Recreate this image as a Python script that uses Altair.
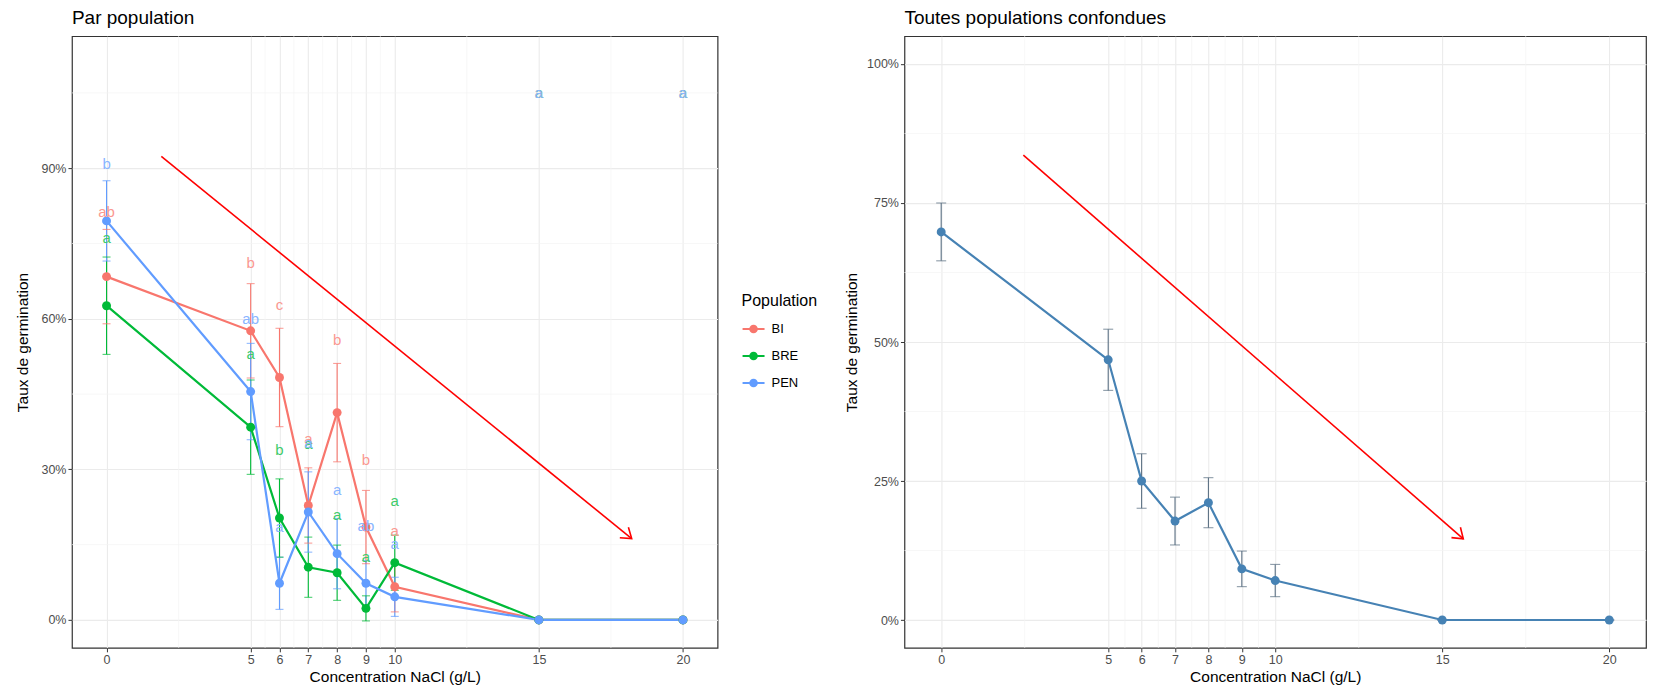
import altair as alt
import pandas as pd

# ---------------- data ----------------
conc = [0, 5, 6, 7, 8, 9, 10, 15, 20]
populations = ["BI", "BRE", "PEN"]

bi_mean = [0.684, 0.576, 0.483, 0.228, 0.413, 0.185, 0.066, 0.0, 0.0]
bi_se = [0.094, 0.094, 0.098, 0.075, 0.098, 0.073, 0.050, 0.0, 0.0]
bi_letters = ["ab", "b", "c", "a", "b", "b", "a", "a", "a"]
bi_label_y = [0.813, 0.712, 0.628, 0.360, 0.558, 0.318, 0.177, 1.05, 1.05]

bre_mean = [0.626, 0.384, 0.203, 0.105, 0.094, 0.023, 0.114, 0.0, 0.0]
bre_se = [0.097, 0.094, 0.078, 0.060, 0.055, 0.025, 0.055, 0.0, 0.0]
bre_letters = ["a", "a", "b", "a", "a", "a", "a", "a", "a"]
bre_label_y = [0.760, 0.530, 0.338, 0.350, 0.210, 0.125, 0.236, 1.05, 1.05]

pen_mean = [0.795, 0.455, 0.073, 0.215, 0.132, 0.073, 0.046, 0.0, 0.0]
pen_se = [0.080, 0.096, 0.052, 0.080, 0.070, 0.045, 0.039, 0.0, 0.0]
pen_letters = ["b", "ab", "a", "a", "a", "ab", "a", "a", "a"]
pen_label_y = [0.908, 0.599, 0.185, 0.352, 0.258, 0.187, 0.152, 1.05, 1.05]

all_mean = [0.698, 0.468, 0.250, 0.178, 0.211, 0.092, 0.071, 0.0, 0.0]
all_se = [0.052, 0.055, 0.049, 0.043, 0.045, 0.032, 0.029, 0.0, 0.0]

minor_x = [2.5, 5.5, 6.5, 7.5, 8.5, 9.5, 12.5, 17.5]
left_y_ticks = [0, 0.3, 0.6, 0.9]
left_y_minor = [0.15, 0.45, 0.75, 1.05]
right_y_ticks = [0, 0.25, 0.5, 0.75, 1.0]
right_y_minor = [0.125, 0.375, 0.625, 0.875]

arrow_left_x = [1.90, 18.22]
arrow_left_y = [0.9235, 0.162]
arrow_right_x = [2.46, 15.63]
arrow_right_y = [0.836, 0.146]

# ---------------- styles ----------------
FONT = "Liberation Sans"
PAL = {"BI": "#F8766D", "BRE": "#00BA38", "PEN": "#619CFF"}
PAL_TXT = {"BI": "#FA9891", "BRE": "#40CB6A", "PEN": "#89B5FF"}
GRID = "#EBEBEB"
MINOR = "#F4F4F4"
STEEL = "#4682B4"
ERR_R = "#5B7083"
FRAME = alt.ViewBackground(stroke="#333333", strokeWidth=1.2, fill="white")

rows = []
for pop, m, s, let, ly in [
    ("BI", bi_mean, bi_se, bi_letters, bi_label_y),
    ("BRE", bre_mean, bre_se, bre_letters, bre_label_y),
    ("PEN", pen_mean, pen_se, pen_letters, pen_label_y),
]:
    for c, mi, si, li, lyi in zip(conc, m, s, let, ly):
        rows.append(dict(conc=c, pop=pop, mean=mi, lower=mi - si, upper=mi + si,
                         letter=li, label_y=lyi, hex=PAL[pop], txt=PAL_TXT[pop]))
df_pop = pd.DataFrame(rows)

df_all = pd.DataFrame({"conc": conc, "mean": all_mean,
                       "lower": [m - s for m, s in zip(all_mean, all_se)],
                       "upper": [m + s for m, s in zip(all_mean, all_se)]})


def x_axis():
    return alt.Axis(title="Concentration NaCl (g/L)", values=conc, format="d", grid=True,
                    gridColor=GRID, gridWidth=1.1, domain=False, tickColor="#333333",
                    tickSize=4, tickWidth=1, labelFontSize=12.5, labelColor="#4D4D4D",
                    labelPadding=2, labelFont=FONT, titleFont=FONT, titleFontSize=15.5,
                    titleFontWeight="normal", titleColor="#000000", titlePadding=3,
                    labelFlush=False, labelOverlap=False)


def y_axis(values, tpad):
    return alt.Axis(title="Taux de germination", values=values, format=".0%", grid=True,
                    gridColor=GRID, gridWidth=1.1, domain=False, tickColor="#333333",
                    tickSize=4, tickWidth=1, labelFontSize=12.5, labelColor="#4D4D4D",
                    labelPadding=2, labelFont=FONT, titleFont=FONT, titleFontSize=15.5,
                    titleFontWeight="normal", titleColor="#000000", titlePadding=tpad,
                    labelFlush=False, labelOverlap=False)


ARROW_HEAD = "M-1,-0.7L0,0L-1,0.7"
LEG_SYM = ("M-1,0L1,0"
           "M0.3,0A0.3,0.3,0,1,1,-0.3,0A0.3,0.3,0,1,1,0.3,0"
           "M0.17,0A0.17,0.17,0,1,1,-0.17,0A0.17,0.17,0,1,1,0.17,0"
           "M0.05,0A0.05,0.05,0,1,1,-0.05,0A0.05,0.05,0,1,1,0.05,0")


def panel(xs, ys, yvals, yminor, tpad):
    xa = x_axis()
    ya = y_axis(yvals, tpad)

    def X(f):
        return alt.X(f, type="quantitative", scale=xs, axis=xa)

    def Y(f):
        return alt.Y(f, type="quantitative", scale=ys, axis=ya)

    gx = alt.Chart(pd.DataFrame({"v": minor_x})).mark_rule(
        color=MINOR, strokeWidth=0.7).encode(x=X("v"))
    gy = alt.Chart(pd.DataFrame({"v": yminor})).mark_rule(
        color=MINOR, strokeWidth=0.7).encode(y=Y("v"))
    return X, Y, gx, gy


# ---------------- left panel ----------------
xL = alt.Scale(domain=[-1.2, 21.2], nice=False, zero=False)
yL = alt.Scale(domain=[-0.0556, 1.163], nice=False, zero=False)
XL, YL, gxL, gyL = panel(xL, yL, left_y_ticks, left_y_minor, 10)

baseL = alt.Chart(df_pop)
errL = baseL.mark_rule(strokeWidth=1.1).encode(
    x=XL("conc"), y=YL("lower"), y2="upper", stroke=alt.Stroke("hex:N", scale=None))
capUL = baseL.mark_tick(orient="horizontal", size=8, thickness=1.1).encode(
    x=XL("conc"), y=YL("upper"), fill=alt.Fill("hex:N", scale=None))
capLL = baseL.mark_tick(orient="horizontal", size=8, thickness=1.1).encode(
    x=XL("conc"), y=YL("lower"), fill=alt.Fill("hex:N", scale=None))
lineL = baseL.mark_line(strokeWidth=2.2).encode(
    x=XL("conc"), y=YL("mean"),
    color=alt.Color("pop:N", scale=alt.Scale(domain=populations,
                                             range=[PAL[p] for p in populations]),
                    legend=alt.Legend(title="Population", orient="none", legendX=670,
                                      legendY=257, symbolType=LEG_SYM, symbolSize=484,
                                      symbolStrokeWidth=2, symbolOpacity=1,
                                      titleFontSize=16, labelFontSize=13, titleFont=FONT,
                                      labelFont=FONT, titleFontWeight="normal",
                                      titleColor="#000000", labelColor="#000000",
                                      rowPadding=7, titlePadding=8, labelOffset=6)))
ptsL = baseL.mark_circle(size=80, opacity=1).encode(
    x=XL("conc"), y=YL("mean"), fill=alt.Fill("hex:N", scale=None))
txtL = baseL.mark_text(fontSize=15, font=FONT, opacity=1).encode(
    x=XL("conc"), y=YL("label_y"), text="letter:N", fill=alt.Fill("txt:N", scale=None))
arrL_df = pd.DataFrame({"x": arrow_left_x, "y": arrow_left_y})
arrL = alt.Chart(arrL_df).mark_line(color="#FF0000", strokeWidth=1.6).encode(
    x=XL("x"), y=YL("y"))
headL = alt.Chart(arrL_df.iloc[[1]]).mark_point(
    shape=ARROW_HEAD, size=380, angle=39, filled=False, color="#FF0000",
    strokeWidth=1.6, opacity=1).encode(x=XL("x"), y=YL("y"))

left = alt.layer(gxL, gyL, errL, capUL, capLL, lineL, ptsL, txtL, arrL, headL).properties(
    width=646, height=612, view=FRAME,
    title=alt.Title("Par population", anchor="start", frame="group", fontSize=19,
                    font=FONT, fontWeight="normal", color="#000000", offset=8))

# ---------------- right panel ----------------
xR = alt.Scale(domain=[-1.1, 21.1], nice=False, zero=False)
yR = alt.Scale(domain=[-0.05, 1.05], nice=False, zero=False)
XR, YR, gxR, gyR = panel(xR, yR, right_y_ticks, right_y_minor, 7)

baseR = alt.Chart(df_all)
errR = baseR.mark_rule(strokeWidth=1.1, color=ERR_R).encode(
    x=XR("conc"), y=YR("lower"), y2="upper")
capUR = baseR.mark_tick(orient="horizontal", size=10, thickness=1.1, color=ERR_R).encode(
    x=XR("conc"), y=YR("upper"))
capLR = baseR.mark_tick(orient="horizontal", size=10, thickness=1.1, color=ERR_R).encode(
    x=XR("conc"), y=YR("lower"))
lineR = baseR.mark_line(strokeWidth=2.2, color=STEEL).encode(x=XR("conc"), y=YR("mean"))
ptsR = baseR.mark_circle(size=80, opacity=1, color=STEEL).encode(x=XR("conc"), y=YR("mean"))
arrR_df = pd.DataFrame({"x": arrow_right_x, "y": arrow_right_y})
arrR = alt.Chart(arrR_df).mark_line(color="#FF0000", strokeWidth=1.6).encode(
    x=XR("x"), y=YR("y"))
headR = alt.Chart(arrR_df.iloc[[1]]).mark_point(
    shape=ARROW_HEAD, size=380, angle=41, filled=False, color="#FF0000",
    strokeWidth=1.6, opacity=1).encode(x=XR("x"), y=YR("y"))

right = alt.layer(gxR, gyR, errR, capUR, capLR, lineR, ptsR, arrR, headR).properties(
    width=742, height=612, view=FRAME,
    title=alt.Title("Toutes populations confondues", anchor="start", frame="group",
                    fontSize=19, font=FONT, fontWeight="normal", color="#000000", offset=8))

chart = alt.hconcat(left, right, spacing=25).resolve_legend(color="independent").properties(
    padding={"left": 7, "top": 0, "right": 0, "bottom": 0}
).configure_view(stroke="#333333", strokeWidth=1.2).configure(background="white")

chart.save("out.html", embed_options={"renderer": "svg", "actions": False})
